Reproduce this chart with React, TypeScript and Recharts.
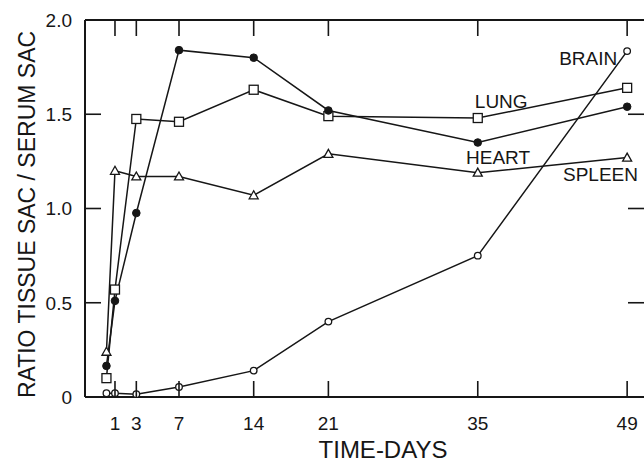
import React from 'react';
import { LineChart, Line, XAxis, YAxis, ReferenceDot, ReferenceLine } from 'recharts';

// sampling times (days) and tissue/serum ratios
const days = [0.2, 1, 3, 7, 14, 21, 35, 49];
const brain = [0.02, 0.02, 0.015, 0.053, 0.14, 0.4, 0.75, 1.835];
const lung = [0.1, 0.57, 1.475, 1.46, 1.63, 1.49, 1.48, 1.64];
const heart = [0.165, 0.51, 0.976, 1.84, 1.8, 1.52, 1.35, 1.54];
const spleen = [0.24, 1.2, 1.17, 1.17, 1.07, 1.29, 1.19, 1.27];

const xTicks = [1, 3, 7, 14, 21, 35, 49];
const yTicks = [0, 0.5, 1, 1.5, 2];

// series names placed next to the curves (day, ratio)
const seriesLabels = [
  { text: 'BRAIN', day: 45.35, value: 1.8 },
  { text: 'LUNG', day: 37.2, value: 1.57 },
  { text: 'HEART', day: 36.9, value: 1.27 },
  { text: 'SPLEEN', day: 46.5, value: 1.18 },
];

const data = days.map((d, i) => ({
  day: d,
  brain: brain[i],
  lung: lung[i],
  heart: heart[i],
  spleen: spleen[i],
}));

const INK = '#161616';
const FONT = '"Liberation Sans", Arial, sans-serif';
const CHART_W = 644;
const CHART_H = 463;
const MARGIN = { top: 20, right: 0, bottom: 0, left: 0 };
const X_DOMAIN: [number, number] = [-1.81, 50.58];
const Y_DOMAIN: [number, number] = [0, 2];
const TICK_LEN = 16;
const Y_GAP = 13;
const X_GAP = 20;
const PLOT_TOP = MARGIN.top;
const PLOT_RIGHT = CHART_W - MARGIN.right;

// left axis label plus inward ticks on both the left and right frame edges
const LeftTick = (props: any) => {
  const { x, y, payload } = props;
  const v = payload.value;
  const inner = v > Y_DOMAIN[0] && v < Y_DOMAIN[1];
  return (
    <g>
      <text x={x} y={y} dy="0.36em" textAnchor="end" fontSize={19} fontFamily={FONT} fill={INK}>
        {v === 0 ? '0' : v.toFixed(1)}
      </text>
      {inner && (
        <line x1={x + Y_GAP} x2={x + Y_GAP + TICK_LEN} y1={y} y2={y} stroke={INK} strokeWidth={1.6} />
      )}
      {inner && (
        <line x1={PLOT_RIGHT - TICK_LEN} x2={PLOT_RIGHT} y1={y} y2={y} stroke={INK} strokeWidth={1.6} />
      )}
    </g>
  );
};

// bottom axis label plus inward ticks on both the bottom and top frame edges
const BottomTick = (props: any) => {
  const { x, y, payload } = props;
  return (
    <g>
      <text x={x} y={y} dy="0.71em" textAnchor="middle" fontSize={19} fontFamily={FONT} fill={INK}>
        {payload.value}
      </text>
      <line x1={x} x2={x} y1={y - X_GAP} y2={y - X_GAP - TICK_LEN} stroke={INK} strokeWidth={1.6} />
      <line x1={x} x2={x} y1={PLOT_TOP} y2={PLOT_TOP + TICK_LEN} stroke={INK} strokeWidth={1.6} />
    </g>
  );
};

const OpenCircle = (p: any) => (
  <circle key={p.index} cx={p.cx} cy={p.cy} r={3.3} fill="#fff" stroke={INK} strokeWidth={1.3} />
);
const FilledCircle = (p: any) => (
  <circle key={p.index} cx={p.cx} cy={p.cy} r={3.8} fill={INK} stroke={INK} strokeWidth={1} />
);
const OpenSquare = (p: any) => (
  <rect key={p.index} x={p.cx - 4.5} y={p.cy - 4.5} width={9} height={9} fill="#fff" stroke={INK} strokeWidth={1.3} />
);
const OpenTriangle = (p: any) => (
  <path
    key={p.index}
    d={`M${p.cx},${p.cy - 4.5} L${p.cx + 4.5},${p.cy + 3.5} L${p.cx - 4.5},${p.cy + 3.5} Z`}
    fill="#fff"
    stroke={INK}
    strokeWidth={1.3}
  />
);

const YTitle = (props: any) => {
  const vb = props.viewBox;
  const cx = vb.x + 35;
  const cy = vb.y + vb.height / 2 + 6;
  return (
    <text x={cx} y={cy} transform={`rotate(-90, ${cx}, ${cy})`} textAnchor="middle" fontSize={23} fontFamily={FONT} fill={INK}>
      RATIO TISSUE SAC / SERUM SAC
    </text>
  );
};

const XTitle = (props: any) => {
  const vb = props.viewBox;
  return (
    <text x={vb.x + 298} y={vb.y + 61} textAnchor="middle" fontSize={24} fontFamily={FONT} fill={INK}>
      TIME-DAYS
    </text>
  );
};

const seriesList = [
  { key: 'brain', dot: OpenCircle },
  { key: 'lung', dot: OpenSquare },
  { key: 'heart', dot: FilledCircle },
  { key: 'spleen', dot: OpenTriangle },
];

export default function App() {
  return (
    <div style={{ position: 'absolute', left: 0, top: 0, width: CHART_W, height: CHART_H, overflow: 'hidden', background: '#fff' }}>
      <LineChart width={CHART_W} height={CHART_H} data={data} margin={MARGIN}>
        <XAxis
          dataKey="day"
          type="number"
          domain={X_DOMAIN}
          ticks={xTicks}
          allowDataOverflow
          height={66}
          tickSize={0}
          tickMargin={X_GAP}
          tickLine={false}
          axisLine={{ stroke: INK, strokeWidth: 2 }}
          tick={<BottomTick />}
          interval={0}
          label={<XTitle />}
        />
        <YAxis
          type="number"
          domain={Y_DOMAIN}
          ticks={yTicks}
          width={85}
          tickSize={0}
          tickMargin={Y_GAP}
          tickLine={false}
          axisLine={{ stroke: INK, strokeWidth: 2 }}
          tick={<LeftTick />}
          interval={0}
          label={<YTitle />}
        />
        {/* top frame line */}
        <ReferenceLine y={Y_DOMAIN[1]} stroke={INK} strokeWidth={2} />
        {seriesList.map((s) => (
          <Line
            key={s.key}
            dataKey={s.key}
            type="linear"
            stroke={INK}
            strokeWidth={1.5}
            dot={s.dot}
            activeDot={false}
            isAnimationActive={false}
          />
        ))}
        {seriesLabels.map((l) => (
          <ReferenceDot
            key={l.text}
            x={l.day}
            y={l.value}
            r={0}
            ifOverflow="visible"
            shape={(p: any) => (
              <text x={p.cx} y={p.cy} dy="0.36em" textAnchor="middle" fontSize={19} fontFamily={FONT} fill={INK}>
                {l.text}
              </text>
            )}
          />
        ))}
      </LineChart>
    </div>
  );
}
